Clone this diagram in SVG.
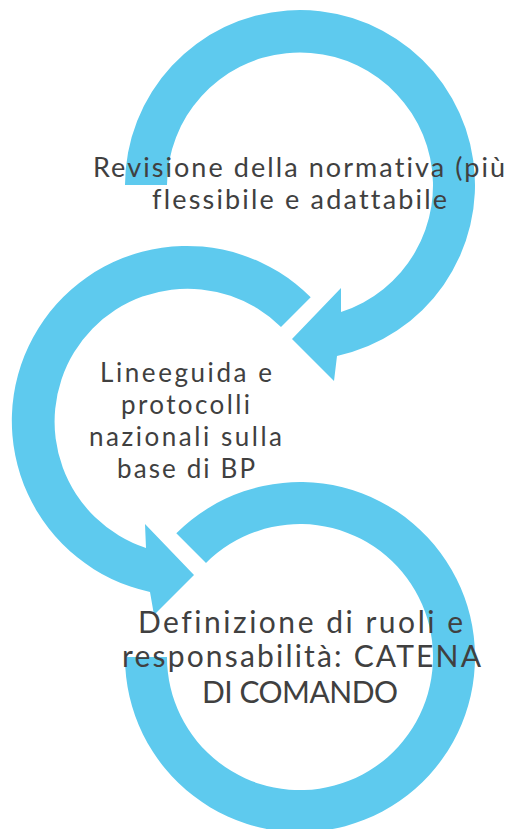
<svg xmlns="http://www.w3.org/2000/svg" width="512" height="829" viewBox="0 0 512 829">
<style>
.arc{fill:#5ECAEE;stroke:none}
.t{font-family:Lato,"Liberation Sans",sans-serif;fill:#404040;text-anchor:middle;font-variant-ligatures:none;font-feature-settings:"liga" 0,"clig" 0,"dlig" 0}
</style>
<rect width="512" height="829" fill="#FFFFFF"/>
<g id="node1">
<path class="arc" d="M125,185 A175,175 0 1 1 337,356 L334,381 L292,339 L341,288 L341,312 A133,133 0 1 0 167,185 Z"/>
<text class="t" font-size="27"><tspan x="299" y="177" textLength="412" lengthAdjust="spacing">Revisione della normativa (più</tspan><tspan x="299.5" y="209" textLength="295" lengthAdjust="spacing">flessibile e adattabile</tspan></text>
</g>
<g id="node2">
<path class="arc" d="M310.7,297.3 A175,175 0 1 0 150,592 L154,615 L194,575 L145,524 L146,548 A133,133 0 1 1 281,327 Z"/>
<text class="t" font-size="26"><tspan x="186" y="382" textLength="172" lengthAdjust="spacing">Lineeguida e</tspan><tspan x="185.5" y="414" textLength="129" lengthAdjust="spacing">protocolli</tspan><tspan x="185.5" y="446" textLength="193" lengthAdjust="spacing">nazionali sulla</tspan><tspan x="186" y="478" textLength="138" lengthAdjust="spacing">base di BP</tspan></text>
</g>
<g id="node3">
<path class="arc" d="M176.3,533.3 A175,175 0 1 1 125,657 L167,657 A133,133 0 1 0 206,563 Z"/>
<text class="t" font-size="30"><tspan x="300.5" y="633" textLength="325" lengthAdjust="spacing">Definizione di ruoli e</tspan><tspan x="301.5" y="667" textLength="359" lengthAdjust="spacing">responsabilità: CATENA</tspan><tspan x="300" y="703" textLength="196" lengthAdjust="spacing">DI COMANDO</tspan></text>
</g>
<g id="connectors"></g>
</svg>
